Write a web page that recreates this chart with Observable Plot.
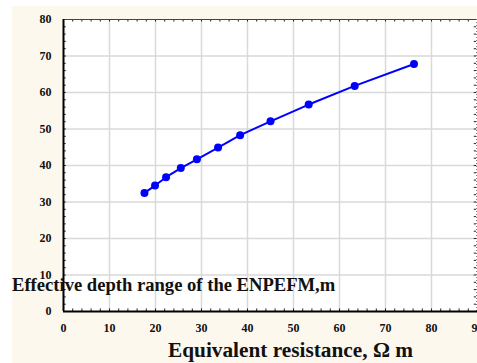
<!DOCTYPE html>
<html>
<head>
<meta charset="utf-8">
<script src="https://cdn.jsdelivr.net/npm/d3@7"></script>
<script src="https://cdn.jsdelivr.net/npm/@observablehq/plot@0.6"></script>
<style>
  html, body { margin: 0; padding: 0; background: #ffffff; }
  #wrap { position: relative; width: 477px; height: 363px; overflow: hidden; }
  #cream { position: absolute; left: 12px; top: 6px; width: 465px; height: 357px; background: #fdf8ee; }
  #chart { position: absolute; left: 0; top: 0; }
  #title { position: absolute; left: 12px; top: 276px; font: bold 18.6px/1 "Liberation Serif", "Times New Roman", serif; color: #111; white-space: nowrap; }
  #xlabel { position: absolute; left: 168px; top: 340px; font: bold 21.3px/1 "Liberation Serif", "Times New Roman", serif; color: #111; white-space: nowrap; }
</style>
</head>
<body>
<div id="wrap">
  <div id="cream"></div>
  <div id="chart"></div>
  <div id="title">Effective depth range of the ENPEFM,m</div>
  <div id="xlabel">Equivalent resistance, Ω m</div>
</div>
<script>
const resistance = [17.6, 19.9, 22.3, 25.5, 29.0, 33.6, 38.4, 45.0, 53.3, 63.3, 76.2];
const depth      = [32.5, 34.5, 36.8, 39.3, 41.7, 44.9, 48.3, 52.1, 56.7, 61.8, 67.8];
const xTicks = [0, 10, 20, 30, 40, 50, 60, 70, 80, 90];
const yTicks = [0, 10, 20, 30, 40, 50, 60, 70, 80];
const xMinor = d3.range(0, 91, 2);
const yMinor = d3.range(0, 81, 2);

const data = resistance.map((x, i) => ({x, y: depth[i]}));
const serif = "'Liberation Serif', 'Times New Roman', serif";

const chart = Plot.plot({
  width: 477,
  height: 363,
  marginLeft: 63,
  marginRight: 0,
  marginTop: 19,
  marginBottom: 52,
  style: {background: "transparent", color: "#111", overflow: "visible"},
  x: {domain: [0, 90], ticks: xTicks, tickFormat: d => String(d), label: null},
  y: {domain: [0, 80], ticks: yTicks, tickFormat: d => String(d), label: null},
  marks: [
    Plot.frame({fill: "white", stroke: null}),
    Plot.gridX(xTicks.slice(1, -1), {stroke: "#d9d9d9", strokeOpacity: 1, strokeWidth: 1.5}),
    Plot.gridY(yTicks.slice(1, -1), {stroke: "#d9d9d9", strokeOpacity: 1, strokeWidth: 1.5}),
    Plot.ruleX(xMinor, {x: d => d, y1: 0, y2: 0.7, stroke: "#222", strokeWidth: 1}),
    Plot.ruleX(xMinor, {x: d => d, y1: 79.3, y2: 80, stroke: "#222", strokeWidth: 1}),
    Plot.ruleY(yMinor, {y: d => d, x1: 0, x2: 0.6, stroke: "#222", strokeWidth: 1}),
    Plot.ruleY(yMinor, {y: d => d, x1: 89.3, x2: 89.8, stroke: "#222", strokeWidth: 1}),
    Plot.ruleY([80], {stroke: "#444", strokeWidth: 1}),
    Plot.ruleX([89.8], {stroke: "#777", strokeWidth: 1, strokeDasharray: "1,2"}),
    Plot.ruleX([0], {stroke: "#000", strokeWidth: 2}),
    Plot.ruleY([0], {stroke: "#000", strokeWidth: 2}),
    Plot.axisX({ticks: xTicks, tickSize: 0, tickPadding: 12, fill: "#111"}),
    Plot.axisY({ticks: yTicks, tickSize: 0, tickPadding: 12, fill: "#111"}),
    Plot.line(data, {x: "x", y: "y", stroke: "#0000ff", strokeWidth: 2}),
    Plot.dot(data, {x: "x", y: "y", fill: "#0000ff", r: 4})
  ]
});
d3.select(chart).selectAll("text")
  .style("font-family", serif)
  .style("font-weight", "bold")
  .style("font-size", "12px");
document.getElementById("chart").appendChild(chart);
</script>
</body>
</html>
